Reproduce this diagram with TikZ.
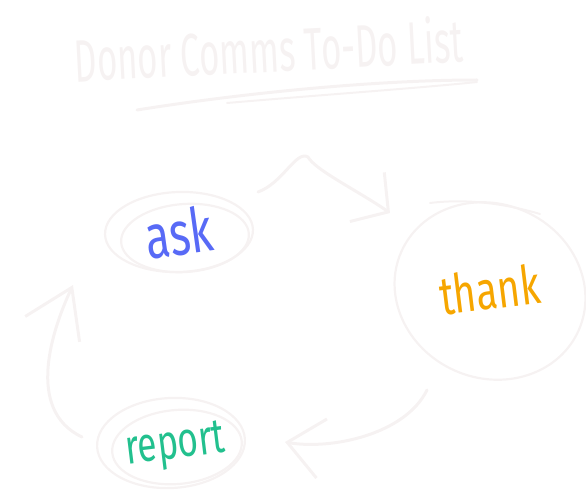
\documentclass[tikz,border=0pt]{standalone}
\usepackage{fontspec}
\usetikzlibrary{arrows.meta,shapes.geometric,positioning}
\newfontfamily\handfont[FakeStretch=0.72]{Fira Sans}
\newfontfamily\titlefont[FakeStretch=0.58]{Fira Sans}
\definecolor{chalk}{RGB}{246,242,242}
\definecolor{askcolor}{RGB}{88,106,246}
\definecolor{thankcolor}{RGB}{246,166,0}
\definecolor{reportcolor}{RGB}{34,192,142}

\begin{document}
\begin{tikzpicture}[x=1pt, y=-1pt,
    ring/.style={ellipse, draw=chalk, line width=2.2pt, inner sep=0pt},
    word/.style={font=\handfont\fontsize{#1}{#1}\selectfont, inner sep=0pt, anchor=base},
    stroke/.style={draw=chalk, line width=3pt, line cap=round},
    tip/.style={-{Straight Barb[length=#1, width=60pt]}}
]
\useasboundingbox (0,0) rectangle (586,497);

% Title
\node[font=\titlefont\fontsize{60}{60}\selectfont, text=chalk, anchor=base, rotate=3] (title) at (270,72) {Donor Comms To-Do List};
\draw[stroke] (137,110) .. controls (250,92) and (380,80) .. (477,80);
\draw[stroke, line width=2pt] (227,103) .. controls (320,95) and (420,88) .. (477,82);

% Rings
\node[ring, minimum width=148pt, minimum height=80pt, rotate=2] (askring) at (179,232) {};
\node[ring, minimum width=128pt, minimum height=68pt, rotate=4] (askloop) at (185,238) {};
\node[ring, minimum width=194pt, minimum height=174pt, rotate=-24] (thankring) at (490,291) {};
\draw[stroke, line width=2pt] (430,203) .. controls (470,198) and (510,205) .. (540,214);
\node[ring, minimum width=148pt, minimum height=90pt, rotate=3] (reportring) at (171,443) {};
\node[ring, minimum width=130pt, minimum height=74pt, rotate=5] (reportloop) at (177,447) {};

% Words
\node[word=62, text=askcolor, rotate=8] (ask) at (182,255) {ask};
\node[word=54, text=thankcolor, rotate=7] (thank) at (492,309) {thank};
\node[word=49, text=reportcolor, rotate=7] (report) at (177,458) {report};

% Arrows
\draw[stroke, tip=26pt] ([shift={(79,-40)}]askring.center) .. controls (283,183) and (296,150) .. (308,157)
    .. controls (315,170) and (360,192) .. ([shift={(-100,-78)}]thankring.center);
\draw[stroke, tip=35pt] ([shift={(-63,99)}]thankring.center) .. controls (405,435) and (330,450) .. ([shift={(114,-1)}]reportring.center);
\draw[stroke, tip=46pt] ([shift={(-89,-6)}]reportring.center) .. controls (25,410) and (52,330) .. ([shift={(-106,53)}]askring.center);
\end{tikzpicture}
\end{document}
